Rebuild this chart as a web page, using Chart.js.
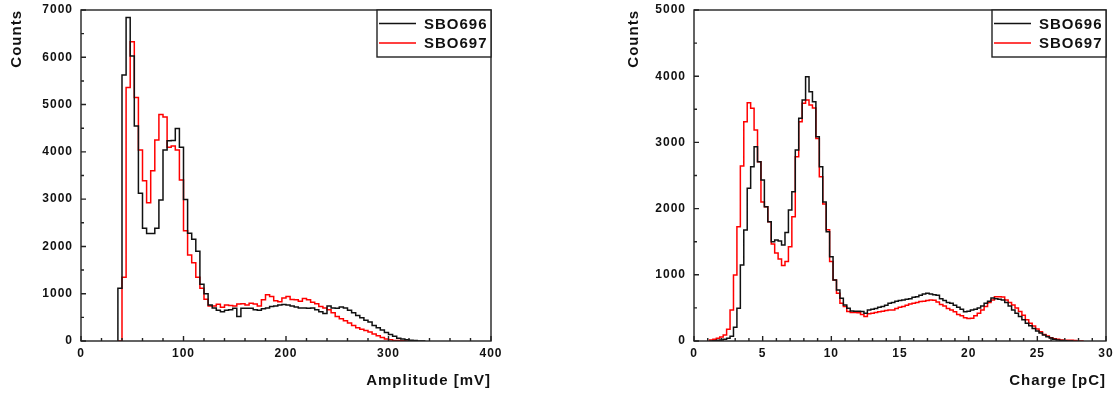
<!DOCTYPE html>
<html>
<head>
<meta charset="utf-8">
<script src="https://cdn.jsdelivr.net/npm/chart.js@4.4.1/dist/chart.umd.min.js"></script>
<style>
  html, body { margin: 0; padding: 0; background: #fff; }
  #wrap { position: relative; width: 1118px; height: 394px; }
  .box { position: absolute; top: 0; width: 559px; height: 394px; }
</style>
</head>
<body>
<div id="wrap">
  <div class="box" style="left:0"><canvas id="amp" width="559" height="394"></canvas></div>
  <div class="box" style="left:559px"><canvas id="chg" width="559" height="394"></canvas></div>
</div>
<script>
const seriesNames = ['SBO696', 'SBO697'];
const seriesColors = ['#111111', '#ff0000'];

// amplitude histogram: lower edge of first bin, bin width (mV)
const ampBinStart = 36;
const ampBinWidth = 4;
const ampSBO696 = [0, 1113, 5624, 6843, 6025, 4545, 3122, 2382, 2276, 2276, 2382, 2981, 4038, 4235, 4240, 4496,
  4100, 2995, 2280, 2150, 1900, 1200, 1000, 760, 700, 650, 620, 650, 660, 690, 520, 690, 690, 690, 660, 650,
  680, 700, 730, 740, 760, 770, 760, 740, 720, 700, 700, 690, 700, 660, 620, 580, 740, 700, 690, 720, 700,
  650, 600, 540, 490, 440, 400, 330, 280, 230, 180, 140, 100, 60, 40, 25, 15, 8, 0];
const ampSBO697 = [0, 0, 1346, 5363, 6328, 5151, 4038, 3390, 2925, 3601, 4249, 4792, 4735, 4100, 4123, 4038,
  3404, 2333, 1818, 1656, 1346, 1113, 881, 740, 740, 775, 712, 760, 750, 740, 780, 790, 760, 800, 780, 740,
  870, 980, 940, 850, 830, 910, 940, 880, 870, 840, 900, 870, 820, 790, 730, 700, 660, 600, 520, 470, 430,
  380, 330, 280, 250, 220, 190, 150, 110, 75, 40, 25, 12, 8, 5, 0];
const ampTicksX = [0, 100, 200, 300, 400];
const ampTicksY = [0, 1000, 2000, 3000, 4000, 5000, 6000, 7000];

// charge histogram (pC)
const chgBinStart = 1.125;
const chgBinWidth = 0.25;
const chgSBO696 = [0, 0, 5, 10, 15, 25, 40, 70, 206, 493, 1148, 1677, 2306, 2633, 2935, 2709, 2432, 2029, 1803,
  1500, 1525, 1510, 1450, 1640, 1979, 2256, 2885, 3363, 3640, 3993, 3766, 3615, 3087, 2633, 2100, 1650, 1274,
  921, 770, 645, 545, 495,
  455, 450, 450, 445, 420, 470, 480, 490, 510, 520, 540, 570, 580, 600, 610, 620, 630, 640, 660, 670,
  690, 710, 720, 710, 700, 690, 640, 610, 580, 570, 540, 510, 480, 440, 450, 470, 480, 500, 530, 570,
  600, 650, 640, 630, 620, 580, 530, 470, 420, 370, 320, 270, 230, 190, 150, 120, 90, 65, 45, 25, 15, 8, 3, 0];
const chgSBO697 = [0, 15, 25, 40, 60, 90, 176, 468, 997, 1727, 2643, 3313, 3600, 3515, 3187, 2709, 2100, 2029,
  1803, 1465, 1330, 1240, 1140, 1200, 1425, 1878, 2785, 3313, 3590, 3640, 3565, 3520, 3060, 2480, 2070, 1680,
  1200, 920, 720, 570, 520, 445,
  430, 430, 425, 400, 370, 410, 420, 430, 440, 450, 460, 470, 470, 490, 510, 520, 540, 560, 570, 580,
  595, 600, 610, 620, 615, 590, 550, 530, 490, 470, 440, 400, 380, 350, 340, 345, 380, 420, 470, 520,
  580, 620, 670, 670, 665, 620, 580, 545, 500, 445, 390, 320, 270, 225, 180, 140, 100, 75, 50, 35,
  25, 15, 12, 10, 10, 8, 0];
const chgTicksX = [0, 5, 10, 15, 20, 25, 30];
const chgTicksY = [0, 1000, 2000, 3000, 4000, 5000];

Chart.defaults.font.family = '"Liberation Sans", Arial, sans-serif';
Chart.defaults.font.weight = 'bold';
Chart.defaults.color = '#111';

function histPoints(start, width, values) {
  const pts = values.map((v, i) => ({ x: start + i * width, y: v }));
  pts.push({ x: start + values.length * width, y: 0 });
  return pts;
}

// frame, inward tick marks and the boxed legend
const framePlugin = {
  id: 'frame',
  beforeDraw(chart) {
    chart.ctx.letterSpacing = '1px';
  },
  afterDraw(chart, args, opts) {
    const { ctx, chartArea: a, scales: { x, y } } = chart;
    ctx.save();
    ctx.strokeStyle = '#222';
    ctx.lineWidth = 1.4;
    ctx.beginPath();
    for (let v = x.min; v <= x.max + 1e-9; v += opts.xMinor) {
      const px = x.getPixelForValue(v);
      const major = Math.abs(v / opts.xMajor - Math.round(v / opts.xMajor)) < 1e-6;
      ctx.moveTo(px, a.bottom);
      ctx.lineTo(px, a.bottom - (major ? 5 : 3));
    }
    for (let v = y.min; v <= y.max + 1e-9; v += opts.yMinor) {
      const py = y.getPixelForValue(v);
      const major = Math.abs(v / opts.yMajor - Math.round(v / opts.yMajor)) < 1e-6;
      ctx.moveTo(a.left, py);
      ctx.lineTo(a.left + (major ? 5 : 3), py);
    }
    ctx.stroke();
    ctx.strokeRect(a.left, a.top, a.right - a.left, a.bottom - a.top);

    // legend
    const w = 114, h = 47;
    const L = a.right - w, T = a.top;
    ctx.fillStyle = '#fff';
    ctx.fillRect(L, T, w, h);
    ctx.strokeRect(L, T, w, h);
    ctx.font = 'bold 15px "Liberation Sans", Arial, sans-serif';
    ctx.textBaseline = 'middle';
    ctx.textAlign = 'left';
    chart.data.datasets.forEach((ds, i) => {
      const yy = T + 13.5 + i * 19.5;
      ctx.strokeStyle = ds.borderColor;
      ctx.lineWidth = 1.5;
      ctx.beginPath();
      ctx.moveTo(L + 2, yy);
      ctx.lineTo(L + 39, yy);
      ctx.stroke();
      ctx.fillStyle = '#111';
      ctx.fillText(ds.label, L + 47, yy + 1);
    });
    ctx.restore();
  }
};

function makeChart(id, cfg) {
  return new Chart(document.getElementById(id), {
    type: 'line',
    data: {
      datasets: cfg.series.map((vals, i) => ({
        label: seriesNames[i],
        data: histPoints(cfg.start, cfg.width, vals),
        borderColor: seriesColors[i],
        borderWidth: 1.5,
        stepped: 'after',
        pointRadius: 0,
        fill: false
      }))
    },
    options: {
      responsive: false,
      animation: false,
      devicePixelRatio: 1,
      layout: { padding: { left: cfg.padLeft, right: cfg.padRight, top: 10, bottom: 0 } },
      plugins: {
        legend: { display: false },
        tooltip: { enabled: false },
        frame: cfg.ticks
      },
      scales: {
        x: {
          type: 'linear',
          min: cfg.xTicks[0],
          max: cfg.xTicks[cfg.xTicks.length - 1],
          afterBuildTicks: s => { s.ticks = cfg.xTicks.map(v => ({ value: v })); },
          afterFit: s => { s.height = 53; s.paddingLeft = 0; s.paddingRight = 0; },
          grid: { display: false, drawTicks: false },
          border: { display: false },
          ticks: {
            font: { size: 12, weight: 'bold' }, color: '#111', padding: 5, maxRotation: 0, autoSkip: false,
            callback: v => String(v)
          },
          title: {
            display: true, text: cfg.xTitle, align: 'end', color: '#111',
            font: { size: 15, weight: 'bold' }, padding: { top: 0, bottom: 4 }
          }
        },
        y: {
          min: cfg.yTicks[0],
          max: cfg.yTicks[cfg.yTicks.length - 1],
          afterBuildTicks: s => { s.ticks = cfg.yTicks.map(v => ({ value: v })); },
          afterFit: s => { s.width = cfg.yWidth; s.paddingTop = 0; s.paddingBottom = 0; },
          grid: { display: false, drawTicks: false },
          border: { display: false },
          ticks: {
            font: { size: 12, weight: 'bold' }, color: '#111', padding: 8, autoSkip: false,
            callback: v => String(v)
          },
          title: {
            display: true, text: 'Counts', align: 'end', color: '#111',
            font: { size: 15, weight: 'bold' }, padding: { top: 8, bottom: 0 }
          }
        }
      }
    },
    plugins: [framePlugin]
  });
}

makeChart('amp', {
  series: [ampSBO696, ampSBO697], start: ampBinStart, width: ampBinWidth,
  xTicks: ampTicksX, yTicks: ampTicksY, xTitle: 'Amplitude [mV]',
  padLeft: 0, padRight: 68, yWidth: 81,
  ticks: { xMajor: 100, xMinor: 20, yMajor: 1000, yMinor: 500 }
});

makeChart('chg', {
  series: [chgSBO696, chgSBO697], start: chgBinStart, width: chgBinWidth,
  xTicks: chgTicksX, yTicks: chgTicksY, xTitle: 'Charge [pC]',
  padLeft: 58, padRight: 12, yWidth: 77,
  ticks: { xMajor: 5, xMinor: 1, yMajor: 1000, yMinor: 500 }
});
</script>
</body>
</html>
